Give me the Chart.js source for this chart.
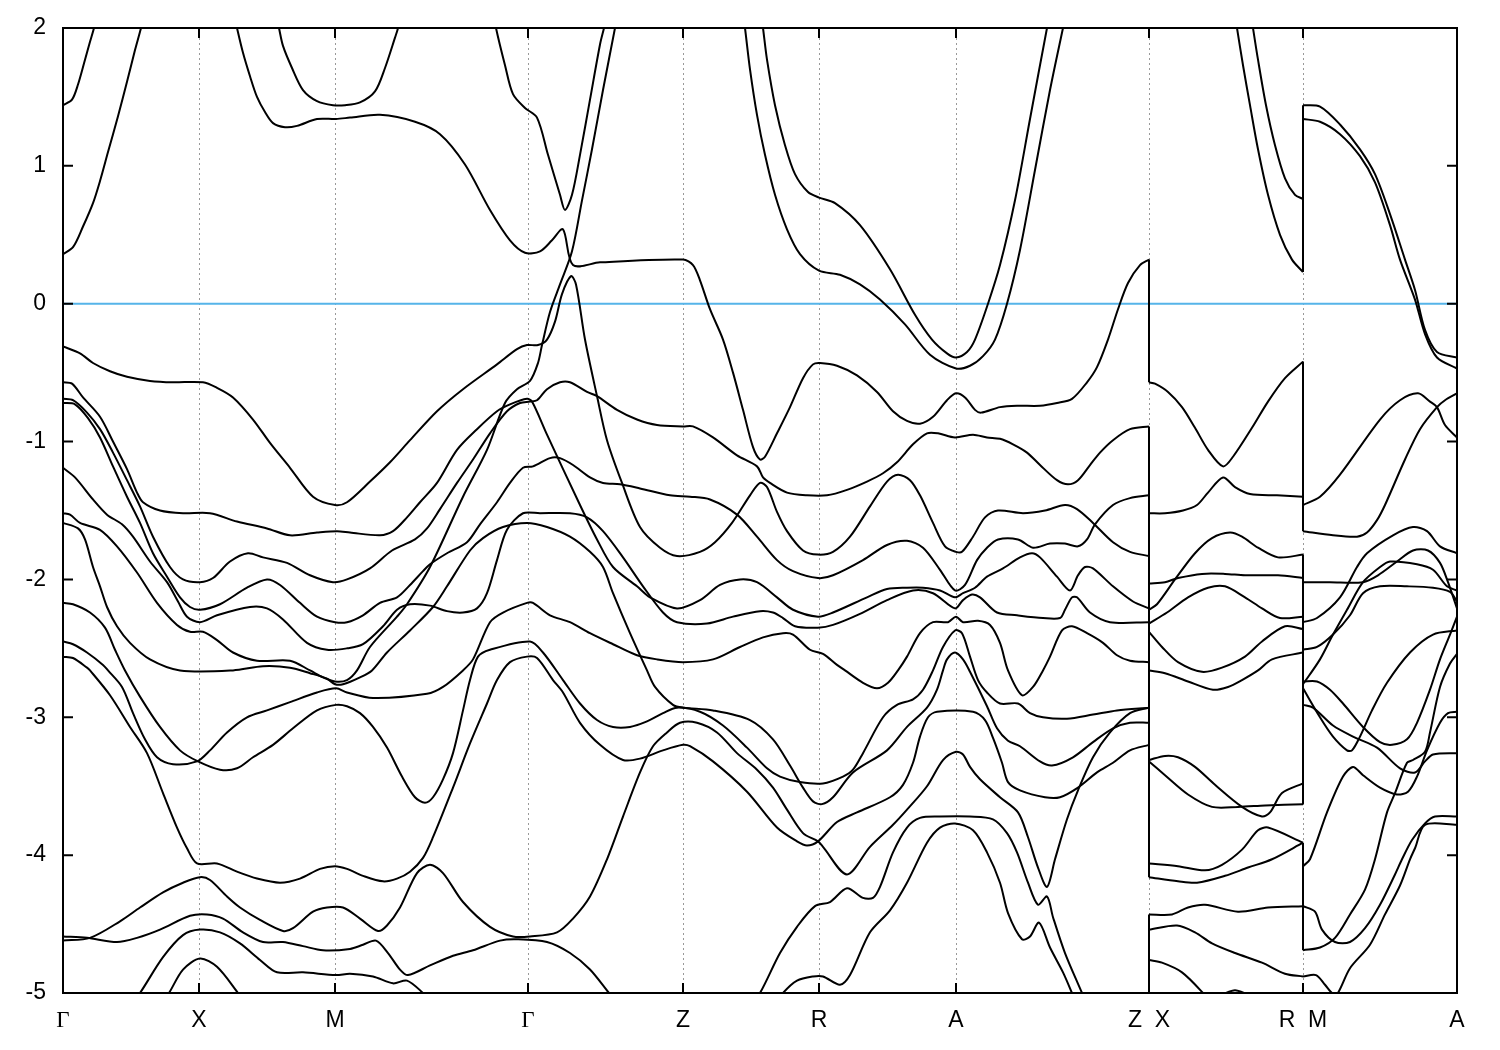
<!DOCTYPE html>
<html>
<head>
<meta charset="utf-8">
<title>Band structure</title>
<script src="https://cdn.jsdelivr.net/npm/chart.js@4/dist/chart.umd.js"></script>
<style>
body { margin: 0; background: #fff; }
canvas { display: block; }
</style>
</head>
<body>
<canvas id="bands" width="1500" height="1050"></canvas>
<script>
// k points along the path, energies
var kTicks = [0, 136, 272, 465, 620, 756, 893, 1086, 1240, 1394];
var kLabels = ["Γ", "X", "M", "Γ", "Z", "R", "A", "Z  X", "R  M", "A"];
var energyTicks = [2, 1, 0, -1, -2, -3, -4, -5];
var fermi = [[0, 0], [1394, 0]];

// Gamma-X-M-Gamma-Z-R-A-Z
var bandA = [[0,1.44],[9,1.48],[15,1.59],[22,1.77],[27,1.90],[31,2.00],[34,2.10]];
var bandB = [[0,.36],[10,.41],[20,.56],[30,.73],[37,.89],[45,1.10],[55,1.36],[64,1.61],[72,1.84],[78,2.00],[81,2.10]];
var bandC = [[171,2.10],[174,2.00],[180,1.82],[187,1.65],[194,1.50],[202,1.39],[210,1.31],[222,1.28],[234,1.29],[254,1.34],[273,1.34],[287,1.35],[317,1.37],[352,1.32],[377,1.23],[402,1.01],[427,.68],[447,.46],[462,.37],[477,.38],[489,.46],[500,.54],[510,.28],[537,.30],[620,.32],[630,.28],[637,.17],[647,-.04],[660,-.26],[670,-.50],[680,-.77],[690,-1.04],[697,-1.13],[702,-1.11],[714,-.94],[727,-.75],[740,-.54],[750,-.44],[757,-.43],[774,-.45],[794,-.52],[814,-.64],[830,-.78],[844,-.85],[857,-.87],[870,-.82],[884,-.70],[893,-.65],[902,-.68],[912,-.77],[918,-.79],[937,-.75],[954,-.74],[977,-.74],[994,-.72],[1009,-.69],[1024,-.57],[1034,-.46],[1045,-.26],[1055,-.04],[1065,.15],[1077,.28],[1086,.32]];
var bandD = [[213,2.10],[216,2.00],[220,1.87],[229,1.71],[240,1.55],[254,1.47],[270,1.44],[282,1.44],[297,1.46],[312,1.54],[322,1.71],[332,1.93],[335,2.00],[337,2.10]];
var bandE = [[431,2.10],[433,2.00],[442,1.73],[450,1.52],[462,1.42],[474,1.35],[485,1.08],[497,.79],[502,.68],[509,.79],[517,1.08],[527,1.48],[537,1.88],[541,2.00],[544,2.10]];
var bandF = [[0,-1.52],[7,-1.53],[17,-1.59],[37,-1.64],[54,-1.76],[74,-1.95],[94,-2.17],[114,-2.33],[127,-2.38],[140,-2.38],[154,-2.44],[170,-2.53],[194,-2.59],[227,-2.59],[247,-2.66],[260,-2.71],[272,-2.74],[284,-2.73],[294,-2.66],[307,-2.49],[334,-2.27],[344,-2.18],[367,-1.91],[400,-1.40],[424,-1.06],[442,-.72],[454,-.62],[467,-.56],[475,-.43],[479,-.30],[487,-.06],[497,.14],[509,.38],[519,.75],[529,1.12],[540,1.55],[552,2.00],[555,2.12]];
var bandG = [[0,-.31],[17,-.36],[30,-.43],[47,-.49],[64,-.53],[87,-.56],[110,-.57],[140,-.57],[154,-.61],[170,-.68],[190,-.84],[207,-1.01],[227,-1.19],[250,-1.40],[272,-1.46],[284,-1.44],[307,-1.29],[327,-1.15],[347,-.99],[374,-.78],[400,-.62],[434,-.44],[454,-.33],[464,-.30],[475,-.30],[484,-.26],[492,-.13],[499,.07],[508,.20],[513,.14],[522,-.26],[534,-.67],[544,-.99],[559,-1.30],[577,-1.62],[597,-1.77],[614,-1.83],[637,-1.80],[652,-1.73],[669,-1.59],[687,-1.39],[697,-1.30],[704,-1.33],[714,-1.51],[724,-1.65],[740,-1.79],[755,-1.82],[770,-1.80],[787,-1.69],[807,-1.47],[824,-1.29],[835,-1.24],[847,-1.28],[857,-1.39],[870,-1.59],[882,-1.76],[893,-1.80],[899,-1.80],[910,-1.69],[922,-1.55],[935,-1.50],[960,-1.52],[982,-1.50],[1002,-1.46],[1014,-1.49],[1030,-1.59],[1050,-1.73],[1067,-1.80],[1086,-1.83]];
var bandH = [[0,-.57],[9,-.58],[20,-.68],[37,-.82],[50,-1.00],[64,-1.20],[74,-1.37],[80,-1.44],[97,-1.50],[120,-1.52],[147,-1.52],[174,-1.58],[204,-1.63],[227,-1.68],[254,-1.66],[274,-1.65],[287,-1.66],[317,-1.68],[330,-1.65],[344,-1.55],[357,-1.44],[374,-1.30],[394,-1.06],[414,-.91],[434,-.78],[447,-.73],[464,-.69],[469,-.71],[484,-.95],[517,-1.46],[534,-1.71],[550,-1.91],[574,-2.05],[587,-2.13],[614,-2.21],[637,-2.15],[657,-2.04],[677,-2.00],[694,-2.02],[714,-2.13],[730,-2.22],[755,-2.27],[770,-2.24],[804,-2.13],[824,-2.07],[844,-2.06],[860,-2.06],[877,-2.08],[892,-2.13],[900,-2.10],[912,-2.06],[924,-1.98],[940,-1.92],[957,-1.84],[969,-1.81],[977,-1.84],[994,-1.98],[1007,-2.08],[1015,-1.97],[1022,-1.91],[1030,-1.92],[1050,-2.05],[1070,-2.16],[1086,-2.21]];
var bandI = [[0,-.69],[10,-.70],[24,-.79],[37,-.91],[50,-1.08],[64,-1.28],[77,-1.47],[90,-1.69],[107,-1.91],[120,-2.00],[137,-2.02],[150,-1.99],[167,-1.87],[185,-1.81],[200,-1.84],[224,-1.88],[247,-1.97],[270,-2.02],[284,-2.00],[307,-1.92],[329,-1.79],[352,-1.71],[364,-1.63],[377,-1.49],[394,-1.30],[410,-1.13],[427,-.94],[444,-.78],[457,-.72],[467,-.71],[474,-.70],[484,-.62],[497,-.57],[507,-.57],[524,-.64],[534,-.67],[554,-.77],[574,-.84],[594,-.88],[620,-.89],[630,-.89],[650,-.97],[674,-1.10],[694,-1.18],[700,-1.26],[707,-1.30],[724,-1.37],[744,-1.39],[764,-1.39],[784,-1.35],[804,-1.29],[820,-1.23],[834,-1.15],[850,-1.02],[864,-.94],[875,-.94],[892,-.97],[910,-.95],[924,-.97],[937,-.98],[950,-1.02],[964,-1.08],[977,-1.17],[994,-1.28],[1005,-1.31],[1015,-1.28],[1027,-1.17],[1037,-1.08],[1050,-.99],[1067,-.91],[1086,-.89]];
var bandJ = [[0,-.72],[12,-.73],[25,-.83],[37,-.97],[50,-1.18],[64,-1.40],[77,-1.59],[90,-1.81],[104,-1.98],[117,-2.13],[127,-2.20],[137,-2.22],[157,-2.18],[184,-2.06],[204,-2.00],[217,-2.04],[237,-2.17],[254,-2.27],[272,-2.31],[284,-2.31],[300,-2.26],[317,-2.17],[334,-2.13],[347,-2.04],[360,-1.94],[367,-1.89],[384,-1.81],[404,-1.73],[417,-1.60],[434,-1.44],[447,-1.30],[460,-1.19],[470,-1.18],[487,-1.12],[497,-1.12],[510,-1.17],[527,-1.26],[540,-1.30],[557,-1.31],[577,-1.34],[607,-1.39],[627,-1.40],[647,-1.42],[674,-1.53],[694,-1.69],[714,-1.86],[730,-1.94],[755,-1.99],[770,-1.97],[800,-1.86],[824,-1.75],[844,-1.72],[860,-1.77],[877,-1.93],[892,-2.08],[902,-2.04],[914,-1.86],[924,-1.77],[935,-1.71],[955,-1.71],[970,-1.77],[987,-1.74],[1002,-1.74],[1015,-1.76],[1024,-1.71],[1032,-1.60],[1050,-1.46],[1067,-1.41],[1086,-1.39]];
var bandK = [[0,-1.19],[12,-1.26],[30,-1.42],[44,-1.53],[59,-1.60],[70,-1.69],[87,-1.87],[104,-2.02],[115,-2.16],[124,-2.27],[137,-2.31],[154,-2.26],[187,-2.20],[204,-2.21],[220,-2.29],[244,-2.46],[264,-2.51],[284,-2.50],[300,-2.47],[320,-2.34],[334,-2.22],[347,-2.18],[367,-2.19],[384,-2.23],[400,-2.24],[414,-2.21],[424,-2.10],[434,-1.86],[444,-1.64],[460,-1.52],[477,-1.52],[507,-1.52],[524,-1.55],[540,-1.65],[560,-1.84],[580,-2.05],[600,-2.24],[614,-2.31],[644,-2.32],[670,-2.27],[697,-2.23],[710,-2.24],[720,-2.28],[732,-2.34],[755,-2.35],[770,-2.33],[797,-2.25],[824,-2.15],[850,-2.08],[870,-2.10],[892,-2.21],[900,-2.15],[909,-2.11],[917,-2.13],[934,-2.24],[954,-2.26],[980,-2.28],[997,-2.28],[1002,-2.22],[1009,-2.13],[1014,-2.13],[1027,-2.24],[1047,-2.31],[1086,-2.31]];
var bandL = [[0,-2.17],[10,-2.18],[27,-2.24],[42,-2.35],[52,-2.51],[62,-2.66],[77,-2.85],[97,-3.07],[117,-3.24],[135,-3.32],[157,-3.38],[174,-3.37],[190,-3.29],[210,-3.20],[230,-3.08],[254,-2.95],[273,-2.91],[284,-2.92],[297,-2.97],[310,-3.07],[324,-3.22],[339,-3.43],[352,-3.58],[362,-3.62],[370,-3.58],[380,-3.45],[390,-3.26],[400,-2.95],[407,-2.73],[415,-2.56],[427,-2.51],[467,-2.45],[480,-2.53],[500,-2.73],[517,-2.90],[534,-3.02],[550,-3.07],[567,-3.07],[584,-3.03],[600,-2.97],[614,-2.93],[637,-2.96],[660,-3.06],[684,-3.22],[704,-3.37],[717,-3.43],[737,-3.47],[760,-3.48],[780,-3.43],[790,-3.38],[800,-3.26],[820,-3.00],[834,-2.91],[850,-2.87],[860,-2.80],[870,-2.66],[880,-2.49],[892,-2.37],[899,-2.39],[907,-2.56],[915,-2.73],[924,-2.82],[937,-2.90],[955,-2.90],[967,-2.97],[980,-3.00],[1004,-3.01],[1030,-2.98],[1054,-2.95],[1086,-2.93]];
var bandM = [[0,-2.45],[10,-2.47],[24,-2.53],[40,-2.62],[45,-2.66],[59,-2.78],[70,-2.97],[82,-3.16],[94,-3.29],[110,-3.34],[134,-3.32],[147,-3.24],[164,-3.11],[184,-3.00],[204,-2.95],[227,-2.89],[254,-2.82],[273,-2.79],[284,-2.82],[310,-2.86],[364,-2.83],[380,-2.78],[400,-2.66],[410,-2.58],[427,-2.31],[440,-2.24],[464,-2.17],[470,-2.17],[487,-2.26],[507,-2.31],[527,-2.39],[550,-2.47],[574,-2.55],[594,-2.58],[620,-2.60],[650,-2.58],[677,-2.49],[700,-2.42],[720,-2.39],[730,-2.40],[747,-2.51],[760,-2.54],[774,-2.62],[782,-2.66],[800,-2.75],[814,-2.79],[825,-2.75],[835,-2.66],[844,-2.56],[857,-2.39],[870,-2.31],[885,-2.31],[893,-2.27],[900,-2.31],[915,-2.30],[927,-2.33],[937,-2.46],[945,-2.66],[959,-2.84],[970,-2.78],[980,-2.66],[987,-2.56],[999,-2.37],[1009,-2.34],[1024,-2.39],[1040,-2.46],[1054,-2.55],[1067,-2.59],[1086,-2.60]];
var bandN = [[0,-2.56],[10,-2.57],[24,-2.64],[27,-2.66],[47,-2.84],[67,-3.07],[84,-3.26],[100,-3.55],[114,-3.80],[124,-3.95],[134,-4.06],[154,-4.06],[174,-4.12],[194,-4.17],[217,-4.20],[237,-4.17],[257,-4.10],[272,-4.08],[284,-4.10],[300,-4.15],[320,-4.19],[334,-4.17],[347,-4.12],[360,-4.02],[370,-3.87],[390,-3.51],[407,-3.19],[424,-2.90],[434,-2.73],[447,-2.60],[464,-2.56],[474,-2.57],[490,-2.73],[500,-2.82],[517,-3.04],[537,-3.20],[560,-3.31],[577,-3.30],[600,-3.24],[620,-3.20],[627,-3.21],[650,-3.32],[684,-3.54],[714,-3.80],[734,-3.90],[744,-3.93],[755,-3.90],[774,-3.76],[794,-3.69],[827,-3.58],[840,-3.49],[850,-3.33],[857,-3.14],[865,-3.00],[874,-2.96],[910,-2.96],[922,-3.02],[930,-3.15],[939,-3.33],[945,-3.47],[957,-3.53],[982,-3.58],[997,-3.58],[1015,-3.51],[1034,-3.40],[1050,-3.33],[1067,-3.24],[1086,-3.20]];
var bandO = [[0,-1.59],[15,-1.63],[22,-1.71],[30,-1.91],[37,-2.05],[44,-2.20],[54,-2.34],[67,-2.46],[87,-2.58],[117,-2.66],[170,-2.66],[200,-2.63],[227,-2.64],[247,-2.68],[264,-2.72],[272,-2.76],[280,-2.76],[297,-2.71],[309,-2.66],[324,-2.53],[347,-2.37],[370,-2.20],[384,-2.05],[407,-1.79],[420,-1.70],[440,-1.62],[464,-1.59],[484,-1.62],[507,-1.69],[527,-1.80],[540,-1.91],[550,-2.10],[567,-2.39],[584,-2.66],[592,-2.78],[610,-2.91],[620,-2.93],[650,-2.95],[687,-3.02],[710,-3.16],[727,-3.35],[740,-3.51],[750,-3.61],[759,-3.63],[770,-3.58],[790,-3.40],[824,-3.24],[844,-3.07],[864,-2.93],[874,-2.80],[880,-2.66],[884,-2.58],[892,-2.53],[900,-2.58],[907,-2.67],[924,-2.92],[934,-3.08],[945,-3.17],[957,-3.21],[977,-3.32],[989,-3.35],[1010,-3.29],[1030,-3.18],[1050,-3.08],[1067,-3.04],[1086,-3.04]];
var bandP = [[0,-4.62],[27,-4.60],[57,-4.48],[77,-4.38],[100,-4.27],[120,-4.20],[137,-4.16],[147,-4.18],[164,-4.30],[177,-4.38],[197,-4.47],[220,-4.55],[230,-4.53],[250,-4.41],[264,-4.38],[280,-4.38],[297,-4.46],[315,-4.55],[324,-4.51],[337,-4.38],[354,-4.13],[367,-4.07],[380,-4.13],[400,-4.34],[427,-4.52],[450,-4.59],[467,-4.59],[494,-4.56],[510,-4.46],[527,-4.30],[544,-4.03],[560,-3.72],[577,-3.40],[590,-3.21],[604,-3.11],[617,-3.04],[634,-3.04],[654,-3.11],[674,-3.26],[694,-3.38],[710,-3.51],[724,-3.67],[740,-3.84],[755,-3.90],[760,-3.94],[784,-4.14],[807,-3.94],[830,-3.78],[844,-3.67],[864,-3.50],[880,-3.31],[893,-3.25],[900,-3.27],[907,-3.36],[917,-3.45],[937,-3.58],[955,-3.69],[965,-3.87],[975,-4.09],[984,-4.23],[992,-4.03],[1004,-3.74],[1015,-3.53],[1030,-3.29],[1047,-3.11],[1067,-2.97],[1086,-2.93]];
var bandQ = [[0,-4.59],[24,-4.60],[54,-4.63],[74,-4.60],[97,-4.54],[127,-4.44],[144,-4.43],[160,-4.46],[180,-4.56],[200,-4.63],[220,-4.63],[240,-4.66],[260,-4.69],[287,-4.68],[300,-4.65],[313,-4.62],[325,-4.71],[337,-4.83],[345,-4.87],[367,-4.80],[390,-4.73],[410,-4.69],[437,-4.62],[454,-4.61],[484,-4.63],[507,-4.71],[527,-4.83],[546,-5.00],[557,-5.09]];
var bandR = [[67,-5.09],[77,-5.00],[100,-4.74],[120,-4.58],[137,-4.54],[157,-4.56],[177,-4.64],[197,-4.76],[214,-4.85],[240,-4.85],[273,-4.87],[287,-4.86],[310,-4.88],[330,-4.93],[344,-4.91],[360,-5.00],[372,-5.09]];
var bandS = [[97,-5.09],[106,-5.00],[120,-4.83],[137,-4.75],[154,-4.81],[175,-5.00],[184,-5.09]];
var bandT = [[680,2.10],[682,2.00],[687,1.70],[694,1.37],[702,1.08],[712,.79],[724,.54],[737,.36],[756,.24],[777,.21],[797,.14],[817,.03],[842,-.15],[867,-.37],[893,-.47],[907,-.45],[920,-.38],[932,-.26],[944,0],[957,.39],[972,.97],[987,1.55],[1000,2.00],[1003,2.10]];
var bandU = [[698,2.10],[700,2.00],[704,1.77],[712,1.44],[722,1.15],[732,.94],[745,.81],[756,.77],[772,.73],[797,.57],[827,.25],[852,-.08],[869,-.26],[884,-.36],[893,-.39],[904,-.35],[912,-.26],[925,0],[937,.28],[952,.75],[967,1.34],[984,2.00],[987,2.10]];
var bandV = [[687,-5.09],[697,-5.00],[717,-4.71],[734,-4.52],[752,-4.37],[767,-4.34],[784,-4.24],[800,-4.31],[810,-4.31],[817,-4.23],[830,-3.98],[844,-3.80],[857,-3.73],[877,-3.72],[907,-3.72],[930,-3.74],[944,-3.84],[954,-3.98],[965,-4.20],[975,-4.36],[984,-4.30],[990,-4.45],[1002,-4.71],[1019,-5.00],[1024,-5.09]];
var bandW = [[712,-5.09],[720,-5.00],[734,-4.91],[750,-4.88],[760,-4.88],[777,-4.94],[787,-4.87],[807,-4.56],[827,-4.40],[844,-4.20],[864,-3.91],[877,-3.80],[892,-3.77],[910,-3.82],[924,-3.98],[937,-4.20],[945,-4.42],[959,-4.61],[967,-4.59],[976,-4.49],[987,-4.67],[1000,-4.85],[1009,-5.00],[1014,-5.09]];

// X-R
var xr1 = [[1172,2.10],[1174,2.00],[1180,1.73],[1187,1.44],[1195,1.12],[1205,.79],[1217,.50],[1229,.32],[1240,.23]];
var xr2 = [[1188,2.10],[1190,2.00],[1195,1.77],[1203,1.44],[1212,1.15],[1222,.91],[1232,.79],[1240,.76]];
var xr3 = [[1086,-.57],[1092,-.58],[1105,-.64],[1119,-.75],[1132,-.90],[1145,-1.06],[1160,-1.18],[1170,-1.11],[1189,-.90],[1205,-.71],[1222,-.54],[1240,-.42]];
var xr4 = [[1086,-1.52],[1102,-1.52],[1120,-1.50],[1134,-1.46],[1145,-1.37],[1160,-1.26],[1172,-1.33],[1187,-1.38],[1214,-1.39],[1240,-1.40]];
var xr5 = [[1086,-2.22],[1094,-2.18],[1112,-2.00],[1132,-1.81],[1149,-1.70],[1167,-1.66],[1179,-1.69],[1195,-1.77],[1215,-1.84],[1240,-1.82]];
var xr6 = [[1086,-2.03],[1102,-2.02],[1115,-1.99],[1139,-1.96],[1162,-1.96],[1182,-1.97],[1215,-1.97],[1240,-1.99]];
var xr7 = [[1086,-2.32],[1104,-2.24],[1125,-2.13],[1145,-2.06],[1162,-2.05],[1182,-2.13],[1199,-2.21],[1217,-2.28],[1240,-2.27]];
var xr8 = [[1086,-2.38],[1099,-2.49],[1115,-2.60],[1139,-2.67],[1159,-2.64],[1182,-2.56],[1199,-2.45],[1222,-2.34],[1240,-2.36]];
var xr9 = [[1086,-2.66],[1102,-2.68],[1125,-2.74],[1150,-2.80],[1165,-2.78],[1179,-2.73],[1195,-2.66],[1209,-2.58],[1240,-2.53]];
var xr10 = [[1086,-3.31],[1102,-3.28],[1115,-3.29],[1132,-3.36],[1152,-3.49],[1179,-3.65],[1199,-3.72],[1207,-3.69],[1219,-3.55],[1240,-3.48]];
var xr11 = [[1086,-3.32],[1102,-3.42],[1125,-3.56],[1149,-3.65],[1175,-3.65],[1202,-3.64],[1240,-3.63]];
var xr12 = [[1086,-4.06],[1115,-4.08],[1142,-4.11],[1159,-4.07],[1179,-3.96],[1195,-3.82],[1205,-3.80],[1240,-3.91]];
var xr13 = [[1086,-4.16],[1115,-4.19],[1134,-4.20],[1162,-4.15],[1185,-4.09],[1209,-4.03],[1240,-3.91]];
var xr14 = [[1086,-4.43],[1109,-4.43],[1125,-4.38],[1142,-4.36],[1175,-4.41],[1205,-4.38],[1240,-4.37]];
var xr15 = [[1086,-4.54],[1114,-4.51],[1132,-4.56],[1149,-4.64],[1172,-4.71],[1199,-4.78],[1222,-4.86],[1240,-4.88]];
var xr16 = [[1086,-4.76],[1099,-4.78],[1119,-4.85],[1140,-5.00],[1147,-5.07]];
var xr17 = [[1159,-5.01],[1172,-4.98],[1185,-5.01]];

// M-A
var ma1 = [[1240,1.44],[1257,1.43],[1277,1.30],[1297,1.12],[1312,.94],[1327,.65],[1342,.32],[1352,.10],[1362,-.19],[1374,-.35],[1394,-.39]];
var ma2 = [[1240,1.34],[1257,1.32],[1277,1.23],[1297,1.07],[1312,.88],[1327,.57],[1337,.32],[1352,.03],[1362,-.22],[1374,-.39],[1394,-.47]];
var ma3 = [[1240,-1.46],[1257,-1.40],[1277,-1.24],[1317,-.84],[1337,-.70],[1355,-.65],[1367,-.71],[1374,-.75],[1382,-.88],[1394,-.97]];
var ma4 = [[1240,-1.65],[1270,-1.68],[1294,-1.69],[1304,-1.66],[1314,-1.57],[1322,-1.46],[1342,-1.13],[1357,-.91],[1374,-.75],[1382,-.70],[1394,-.65]];
var ma5 = [[1240,-2.31],[1254,-2.28],[1277,-2.13],[1294,-1.91],[1304,-1.81],[1330,-1.68],[1350,-1.62],[1364,-1.65],[1377,-1.76],[1394,-1.81]];
var ma6 = [[1240,-2.02],[1267,-2.02],[1300,-2.02],[1315,-1.97],[1334,-1.87],[1350,-1.79],[1365,-1.79],[1377,-1.88],[1385,-2.02],[1394,-2.21]];
var ma7 = [[1240,-2.51],[1254,-2.49],[1270,-2.40],[1287,-2.26],[1300,-2.10],[1317,-2.05],[1344,-2.05],[1370,-2.06],[1387,-2.09],[1394,-2.16]];
var ma8 = [[1240,-2.76],[1257,-2.58],[1270,-2.40],[1284,-2.22],[1300,-2.02],[1317,-1.91],[1327,-1.87],[1354,-1.89],[1370,-1.93],[1384,-2.05],[1394,-2.08]];
var ma9 = [[1240,-2.74],[1254,-2.74],[1267,-2.80],[1280,-2.90],[1300,-3.07],[1317,-3.18],[1329,-3.20],[1344,-3.16],[1354,-3.04],[1367,-2.80],[1377,-2.58],[1387,-2.40],[1394,-2.27]];
var ma10 = [[1240,-2.79],[1257,-3.00],[1270,-3.14],[1284,-3.24],[1289,-3.24],[1297,-3.14],[1309,-2.95],[1324,-2.75],[1347,-2.53],[1370,-2.40],[1394,-2.37]];
var ma11 = [[1240,-2.91],[1250,-2.93],[1270,-3.06],[1290,-3.14],[1314,-3.22],[1337,-3.37],[1352,-3.40],[1362,-3.32],[1370,-3.27],[1394,-3.26]];
var ma12 = [[1240,-4.08],[1247,-4.03],[1264,-3.69],[1280,-3.43],[1290,-3.36],[1300,-3.42],[1317,-3.51],[1334,-3.56],[1345,-3.54],[1354,-3.43],[1364,-3.24],[1377,-3.04],[1385,-2.97],[1394,-2.96]];
var ma13 = [[1240,-4.69],[1257,-4.67],[1272,-4.60],[1287,-4.43],[1302,-4.25],[1312,-4.03],[1324,-3.69],[1332,-3.55],[1344,-3.33],[1350,-3.31],[1362,-3.25],[1367,-3.11],[1377,-2.78],[1387,-2.61],[1394,-2.54]];
var ma14 = [[1240,-4.37],[1252,-4.41],[1259,-4.54],[1272,-4.63],[1287,-4.63],[1302,-4.53],[1317,-4.36],[1332,-4.14],[1339,-4.03],[1349,-3.89],[1362,-3.77],[1372,-3.72],[1394,-3.72]];
var ma15 = [[1240,-4.88],[1253,-4.87],[1262,-4.94],[1269,-5.00],[1274,-5.01],[1287,-4.82],[1307,-4.65],[1322,-4.43],[1337,-4.22],[1347,-4.03],[1352,-3.95],[1362,-3.78],[1394,-3.78]];

// the jumps where the path is broken, [from, to] in eV
var jumpsZX = [[.32,-.57],[-.89,-4.16],[-4.43,-5]];
var jumpsRM = [[1.44,.23],[-.42,-1.65],[-1.82,-3.63],[-3.91,-4.69]];

var allBands = [bandA, bandB, bandC, bandD, bandE, bandF, bandG, bandH, bandI, bandJ, bandK, bandL, bandM,
    bandN, bandO, bandP, bandQ, bandR, bandS, bandT, bandU, bandV, bandW,
    xr1, xr2, xr3, xr4, xr5, xr6, xr7, xr8, xr9, xr10, xr11, xr12, xr13, xr14, xr15, xr16, xr17,
    ma1, ma2, ma3, ma4, ma5, ma6, ma7, ma8, ma9, ma10, ma11, ma12, ma13, ma14, ma15];

var datasets = allBands.map(function (b) {
    return { data: b, borderColor: '#000', borderWidth: 2, pointRadius: 0, showLine: true, fill: false, tension: 0.3 };
});
jumpsZX.forEach(function (j) {
    datasets.push({ data: [[1086, j[0]], [1086, j[1]]], borderColor: '#000', borderWidth: 2, pointRadius: 0, showLine: true });
});
jumpsRM.forEach(function (j) {
    datasets.push({ data: [[1240, j[0]], [1240, j[1]]], borderColor: '#000', borderWidth: 2, pointRadius: 0, showLine: true });
});
datasets.push({ data: fermi, borderColor: '#56b4e9', borderWidth: 2, pointRadius: 0, showLine: true });

// gnuplot style box with the ticks pointing inwards
var frame = {
    id: 'frame',
    afterDraw: function (chart) {
        var c = chart.ctx, a = chart.chartArea, x = chart.scales.x, y = chart.scales.y, len = 10;
        c.save();
        c.strokeStyle = '#000';
        c.lineWidth = 2;
        c.strokeRect(a.left, a.top, a.right - a.left, a.bottom - a.top);
        c.beginPath();
        kTicks.forEach(function (k) {
            var px = x.getPixelForValue(k);
            c.moveTo(px, a.top); c.lineTo(px, a.top + len);
            c.moveTo(px, a.bottom); c.lineTo(px, a.bottom - len);
        });
        energyTicks.forEach(function (e) {
            var py = y.getPixelForValue(e);
            c.moveTo(a.left, py); c.lineTo(a.left + len, py);
            c.moveTo(a.right, py); c.lineTo(a.right - len, py);
        });
        c.stroke();
        c.restore();
    }
};

new Chart(document.getElementById('bands'), {
    type: 'scatter',
    data: { datasets: datasets },
    plugins: [frame],
    options: {
        responsive: false,
        animation: false,
        devicePixelRatio: 1,
        layout: { padding: { top: 28, right: 43 } },
        plugins: { legend: { display: false }, tooltip: { enabled: false } },
        scales: {
            x: {
                type: 'linear',
                min: 0,
                max: 1394,
                afterBuildTicks: function (scale) {
                    scale.ticks = kTicks.map(function (k) { return { value: k }; });
                },
                afterFit: function (scale) { scale.height = 57; },
                grid: { color: '#999', lineWidth: 1, drawTicks: false },
                border: { display: false, dash: [2, 3] },
                ticks: {
                    autoSkip: false,
                    maxRotation: 0,
                    padding: 14,
                    color: '#000',
                    font: function (ctx) {
                        var isGamma = kLabels[ctx.index] === 'Γ';
                        return { family: isGamma ? 'Liberation Serif' : 'Liberation Sans', size: 23 };
                    },
                    callback: function (v) { return kLabels[kTicks.indexOf(v)]; }
                }
            },
            y: {
                type: 'linear',
                min: -5,
                max: 2,
                afterFit: function (scale) {
                    scale.width = 63;
                    // tick padding would otherwise push the plot area down
                    scale.paddingTop = 0;
                    scale.paddingBottom = 0;
                },
                grid: { display: false, drawTicks: false },
                border: { display: false },
                ticks: {
                    stepSize: 1,
                    padding: 17,
                    color: '#000',
                    font: { family: 'Liberation Sans', size: 23 }
                }
            }
        }
    }
});
</script>
</body>
</html>
